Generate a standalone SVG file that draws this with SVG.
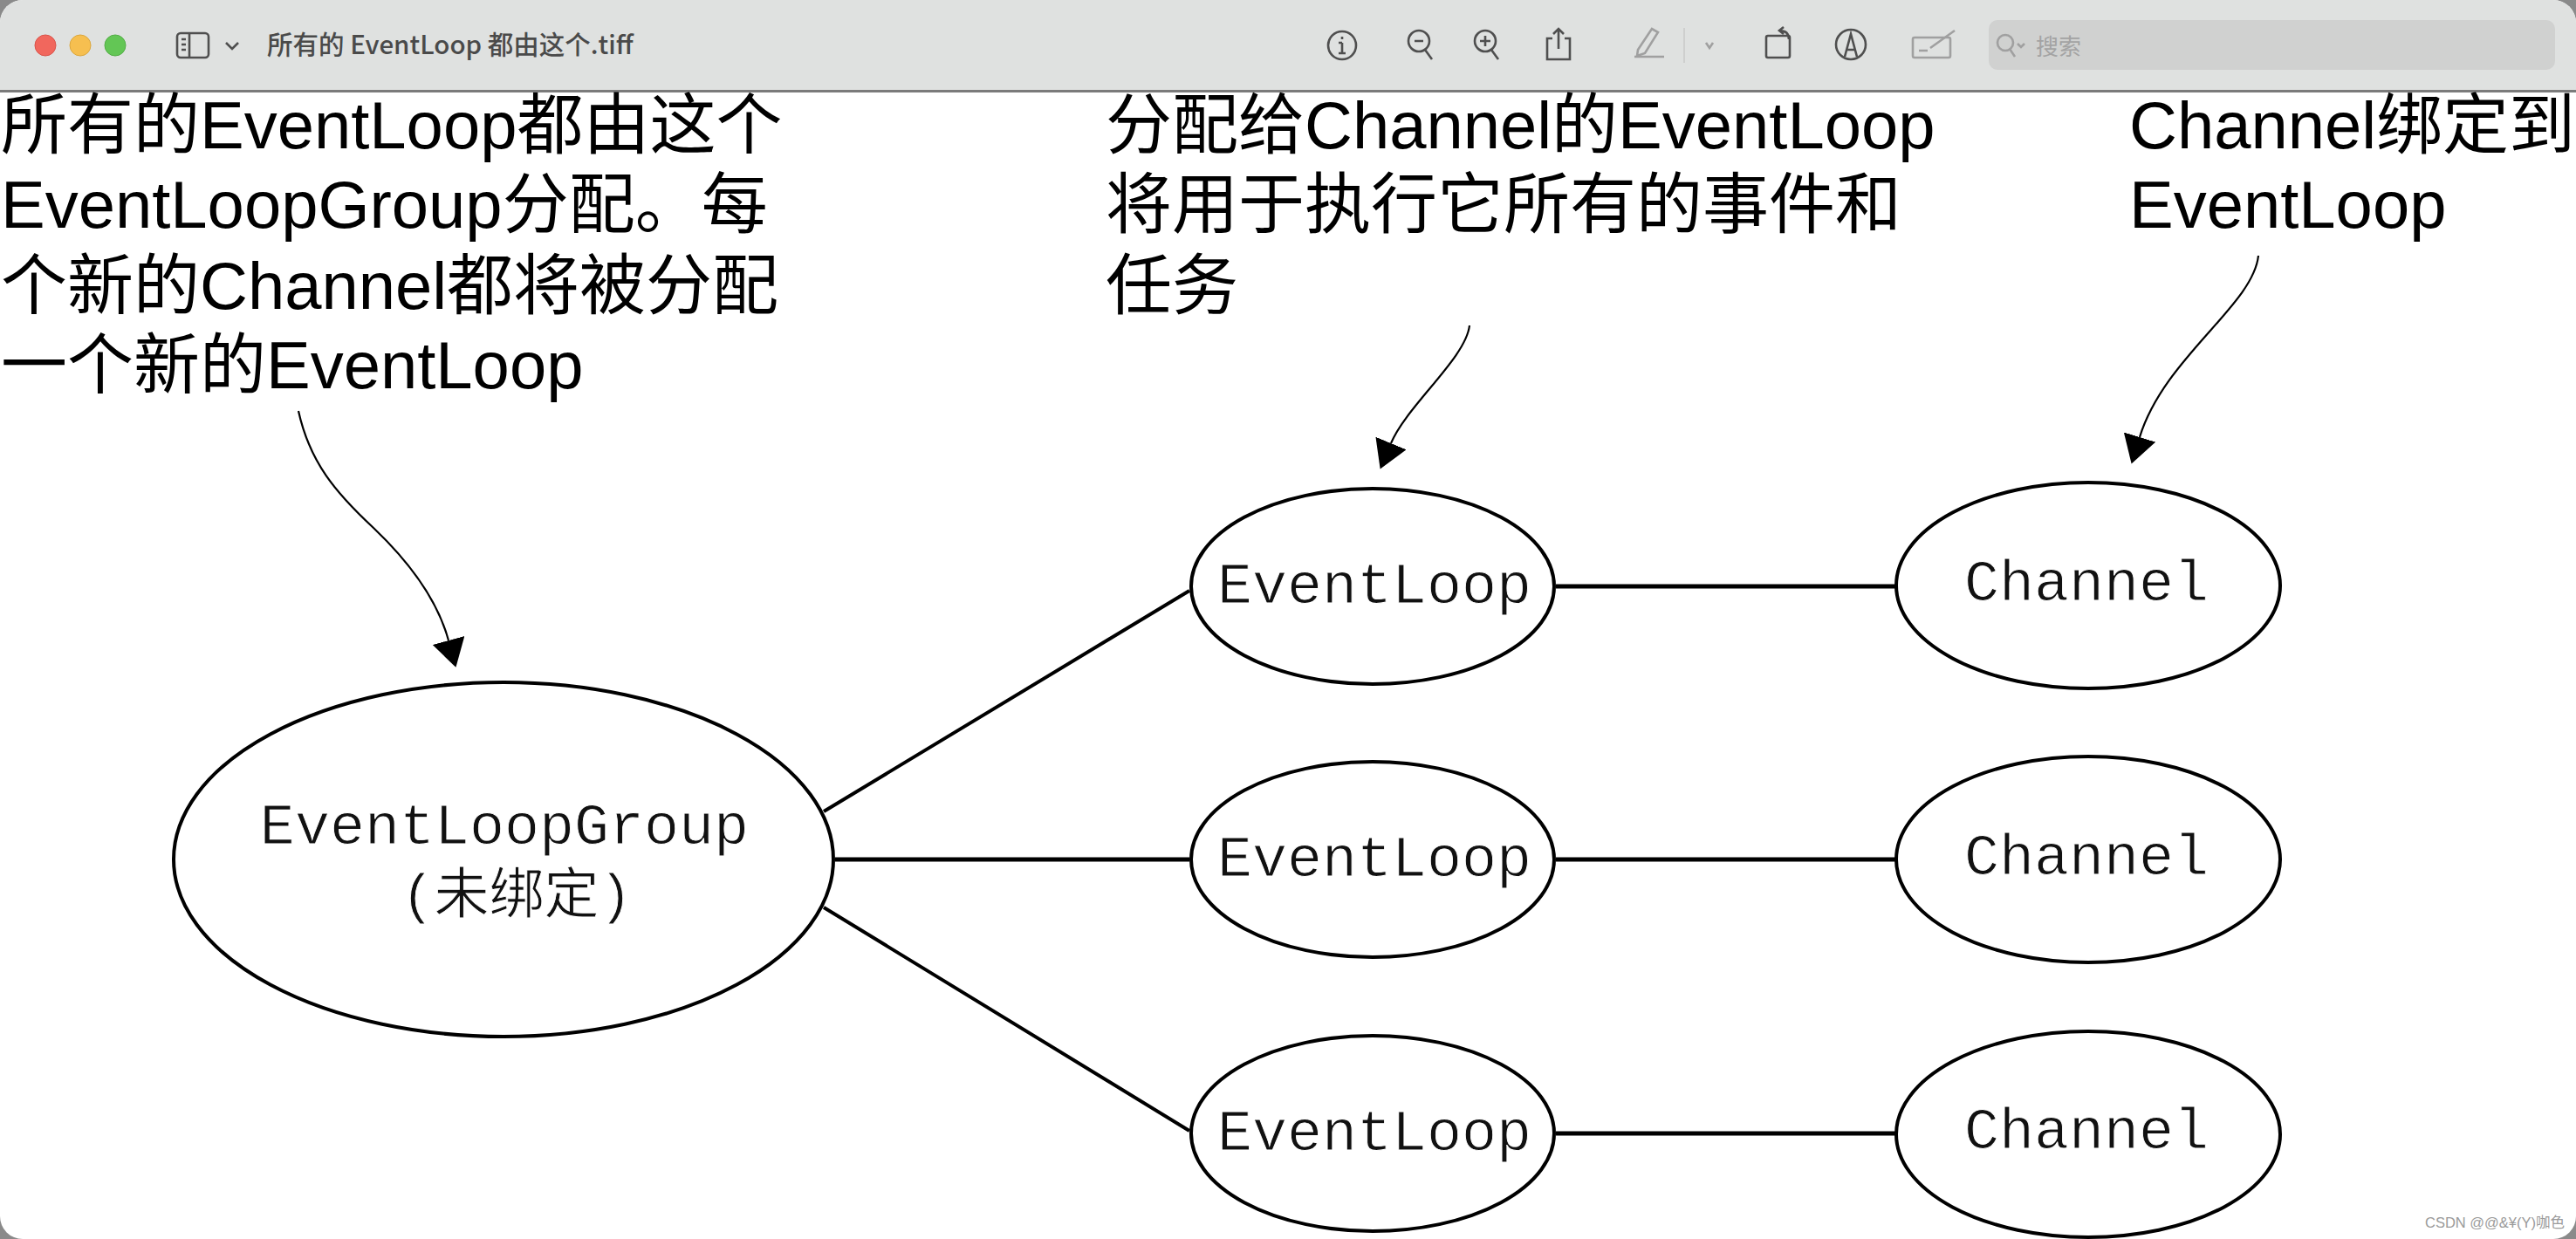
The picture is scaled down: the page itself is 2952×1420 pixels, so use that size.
<svg xmlns="http://www.w3.org/2000/svg" width="2952" height="1420" viewBox="0 0 2952 1420">
<style>
.big{font-family:"Liberation Sans","Noto Sans CJK SC",sans-serif;font-size:76px;fill:#000}
.mono{font-family:"Liberation Mono","Noto Sans CJK SC",monospace;font-size:66.7px;fill:#111;stroke:#fff;stroke-width:.9}
.cn{font-family:"Liberation Mono","Noto Sans CJK SC",monospace;font-size:63px}
.node{fill:#fff;stroke:#000;stroke-width:4}
.conn{stroke:#000;stroke-width:4;fill:none}
.lead{stroke:#000;stroke-width:2.2;fill:none;marker-end:url(#arrow)}
.tool{fill:none;stroke:#4f4f4f;stroke-width:2.6}
.toolg{fill:none;stroke:#a0a0a0;stroke-width:2.6}
</style>
<defs>
<marker id="arrow" markerUnits="userSpaceOnUse" markerWidth="34" markerHeight="38" refX="0" refY="19" orient="auto"><path d="M0 0L32 19L0 38Z" fill="#000"/></marker>
</defs>
<rect width="2952" height="1420" fill="#8a8a8a"/>
<rect width="2952" height="1420" rx="26" fill="#fff"/>
<g id="titlebar">
<path d="M0 104V26A26 26 0 0 1 26 0H2926A26 26 0 0 1 2952 26V104Z" fill="#dfe1e0"/>
<rect y="103" width="2952" height="3" fill="#7b7b7b"/>
<circle cx="52" cy="52" r="12" fill="#f1675d" stroke="#d9534a" stroke-width="1"/>
<circle cx="92" cy="52" r="12" fill="#f6bf50" stroke="#dba73e" stroke-width="1"/>
<circle cx="132" cy="52" r="12" fill="#63c655" stroke="#52ad45" stroke-width="1"/>
<rect x="203" y="38" width="36" height="28" rx="4" class="tool"/>
<path d="M217 38V66M208 45h5M208 51h5M208 57h5M259 49l7 7 7-7" class="tool"/>
<text x="306" y="62" font-family="Noto Sans CJK SC,sans-serif" font-size="29.5" font-weight="500" fill="#4a4a4a">所有的 EventLoop 都由这个.tiff</text>
<circle cx="1538" cy="52" r="16" class="tool"/><path d="M1538 42v3M1538 49v12M1534 61h8M1534 49h4" class="tool"/>
<circle cx="1626" cy="47" r="12" class="tool"/><path d="M1621 47h10M1633 57l8 11" class="tool"/>
<circle cx="1702" cy="47" r="12" class="tool"/><path d="M1696 47h12M1702 41v12M1709 57l8 11" class="tool"/>
<path d="M1779 44h-6v24h26V44h-6M1786 56V33M1780 39l6-6 6 6" class="tool"/>
<path d="M1877 57l16-24 7 4-15 24-9 3Z" class="toolg"/>
<path d="M1873 65h34" class="toolg" stroke-width="3"/>
<path d="M1930 32V72" stroke="#c9c9c9" stroke-width="1.5" fill="none"/>
<path d="M1955 49l4 6 4-6" class="toolg"/>
<rect x="2024" y="41" width="27" height="25" rx="2" class="tool"/><path d="M2044 31l-5 4 5 4M2039 35q11 0 11 10" class="tool"/>
<circle cx="2121" cy="51" r="17" class="tool"/><path d="M2114 65l7-26 7 26M2116 57h10" class="tool"/>
<rect x="2192" y="43" width="43" height="23" rx="2" class="toolg"/><path d="M2212 55l28-20M2199 58h10" class="toolg"/>
<rect x="2279" y="23" width="649" height="57" rx="10" fill="#d0d1d0"/>
<circle cx="2298" cy="49" r="9" class="toolg"/><path d="M2303 56l6 9M2312 50l4 4 4-4" class="toolg"/>
<text x="2333" y="63" font-family="Noto Sans CJK SC,sans-serif" font-size="26" fill="#a3a3a3">搜索</text>
</g>
<g id="connectors">
<path class="conn" d="M944 930L1363 677M944 1040L1363 1296"/>
<path class="conn" style="stroke-width:5" d="M957 985H1363M1783 672H2173M1783 985H2173M1783 1299H2173"/>
<path class="lead" d="M342 471C355 530 385 565 428 605C470 645 502 690 514 734"/>
<path class="lead" d="M1684 373C1680 410 1612 465 1594 508"/>
<path class="lead" d="M2588 293C2582 350 2480 410 2452 501"/>
</g>
<g id="note-group"><text class="big"><tspan x="1" y="170">所有的EventLoop都由这个</tspan><tspan x="1" y="261">EventLoopGroup分配。每</tspan><tspan x="1" y="354">个新的Channel都将被分配</tspan><tspan x="1" y="445">一个新的EventLoop</tspan></text></g>
<g id="note-loop"><text class="big"><tspan x="1267" y="170">分配给Channel的EventLoop</tspan><tspan x="1267" y="261">将用于执行它所有的事件和</tspan><tspan x="1267" y="354">任务</tspan></text></g>
<g id="note-channel"><text class="big"><tspan x="2440" y="170">Channel绑定到</tspan><tspan x="2440" y="261">EventLoop</tspan></text></g>
<g id="group"><ellipse class="node" cx="577" cy="985" rx="378" ry="203"/><text class="mono" x="578" y="967" text-anchor="middle">EventLoopGroup</text><text class="mono cn" x="592" y="1046" text-anchor="middle">(未绑定)</text></g>
<g id="loop1"><ellipse class="node" cx="1573" cy="672" rx="208" ry="112"/><text class="mono" x="1575" y="691" text-anchor="middle">EventLoop</text></g>
<g id="loop2"><ellipse class="node" cx="1573" cy="985" rx="208" ry="112"/><text class="mono" x="1575" y="1004" text-anchor="middle">EventLoop</text></g>
<g id="loop3"><ellipse class="node" cx="1573" cy="1299" rx="208" ry="112"/><text class="mono" x="1575" y="1318" text-anchor="middle">EventLoop</text></g>
<g id="chan1"><ellipse class="node" cx="2393" cy="671" rx="220" ry="118"/><text class="mono" x="2391" y="688" text-anchor="middle">Channel</text></g>
<g id="chan2"><ellipse class="node" cx="2393" cy="985" rx="220" ry="118"/><text class="mono" x="2391" y="1002" text-anchor="middle">Channel</text></g>
<g id="chan3"><ellipse class="node" cx="2393" cy="1300" rx="220" ry="118"/><text class="mono" x="2391" y="1316" text-anchor="middle">Channel</text></g>
<text x="2779" y="1407" font-family="Liberation Sans,Noto Sans CJK SC,sans-serif" font-size="16.5" fill="#9a9a9a">CSDN @@&amp;¥(Y)咖色</text>
</svg>
